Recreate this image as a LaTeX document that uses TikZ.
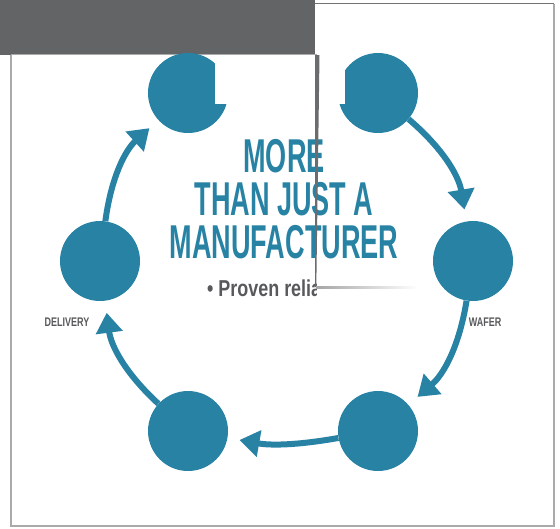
\documentclass[tikz,border=0pt]{standalone}
\usepackage{fontspec}
\usetikzlibrary{arrows.meta}
\newfontfamily\headfont[FakeStretch=0.57]{Liberation Sans}
\newfontfamily\labelfont[FakeStretch=0.72]{Liberation Sans}
\newfontfamily\bodyfont[FakeStretch=0.78]{Liberation Sans}
\definecolor{cycleblue}{RGB}{39,130,164}
\definecolor{bargray}{RGB}{99,100,102}
\definecolor{labelgray}{RGB}{88,89,91}
\definecolor{framegray}{RGB}{170,170,170}
\begin{document}
\begin{tikzpicture}[x=1pt,y=-1pt,
    stage/.style={circle,fill=cycleblue,minimum size=80pt,inner sep=0pt},
    flow/.style={draw=cycleblue,line width=6pt,-{Triangle[length=20pt,width=26pt]},shorten >=12pt},
    headline/.style={text=cycleblue,inner sep=0pt,anchor=base,font=\headfont\bfseries\fontsize{47.5}{43}\selectfont},
    tag/.style={text=labelgray,inner sep=0pt,anchor=base,font=\labelfont\bfseries\fontsize{12.5}{14}\selectfont}]
  \useasboundingbox (0,0) rectangle (560,528);
  % top bar and frame
  \fill[bargray] (0,0) rectangle (315,55);
  \draw[bargray!90,line width=1.2pt] (315,3.5) -- (554,3.5);
  \draw[framegray,line width=1.5pt] (554,3.5) -- (554,526) -- (11,526) -- (11,55);
  \draw[framegray,line width=0.6pt] (11,54.6) -- (317,54.6);
  % stages
  \node[stage] (tl) at (188,93) {};
  \node[stage] (tr) at (378,93) {};
  \node[stage] (r) at (473,261) {};
  \node[stage] (br) at (378,431) {};
  \node[stage] (bl) at (188,431) {};
  \node[stage] (l) at (100,261) {};
  \begin{scope}[flow]
    \draw (tr) to[bend left=20] (r);
    \draw (r) to[bend left=20] (br);
    \draw (br) to[bend left=10] (bl);
    \draw (bl) to[bend left=20] (l);
    \draw (l) to[bend left=20] (tl);
  \end{scope}
  \fill[white] (215,55.5) rectangle (345,104);
  % text
  \node[headline] (more) at (284,172) {MORE};
  \node[headline] (than) at (284,215) {THAN JUST A};
  \node[headline] (maker) at (284,258) {MANUFACTURER};
  \begin{scope}
    \clip (200,265) rectangle (316,305);
    \node[text=labelgray,inner sep=0pt,anchor=base west,font=\bodyfont\bfseries\fontsize{23}{26}\selectfont] (proven) at (207,296) {• Proven relia};
  \end{scope}
  \node[tag] (delivery) at (67,326) {DELIVERY};
  \node[tag] (wafer) at (485,326) {WAFER};
  % overlay lines
  \fill[bargray!95] (315,55) -- (319.5,55) -- (316.3,287) -- (315,287) -- cycle;
  \shade[left color=gray!70,right color=white] (316,286.4) rectangle (418,288);
\end{tikzpicture}
\end{document}
